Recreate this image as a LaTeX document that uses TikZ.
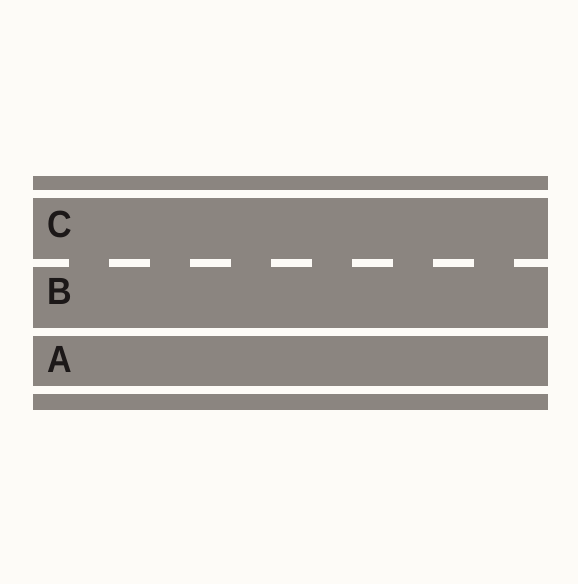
\documentclass[tikz,border=0pt]{standalone}
\usepackage{fontspec}
\setmainfont{Liberation Sans}
\usepackage{tikz}

\definecolor{paper}{RGB}{253,251,247}
\definecolor{asphalt}{RGB}{139,133,128}
\definecolor{paint}{RGB}{252,250,246}
\definecolor{ink}{RGB}{28,24,24}

\begin{document}
\begin{tikzpicture}[x=1bp, y=-1bp,
    strip/.style={fill=asphalt, draw=none},
    laneline/.style={draw=paint, line width=8bp, dash pattern=on 41bp off 40bp, dash phase=5bp},
    lanetag/.style={text=ink, font=\fontsize{38}{38}\selectfont\bfseries, xscale=0.9, inner sep=0pt}]

    % --- Page ---
    \fill[paper] (0,0) rectangle (578,584);
    \useasboundingbox (0,0) rectangle (578,584);

    % --- Road strips ---
    \fill[strip] (33,176) rectangle (548,190);
    \fill[strip] (33,198) rectangle (548,328);
    \fill[strip] (33,336) rectangle (548,386);
    \fill[strip] (33,394) rectangle (548,410);

    % --- Dashed centre line ---
    \draw[laneline] (33,263) -- (548,263);

    % --- Lane labels ---
    \node[lanetag] (laneC) at (60,224) {C};
    \node[lanetag] (laneB) at (60,291) {B};
    \node[lanetag] (laneA) at (60,359) {A};
  \end{tikzpicture}
\end{document}
